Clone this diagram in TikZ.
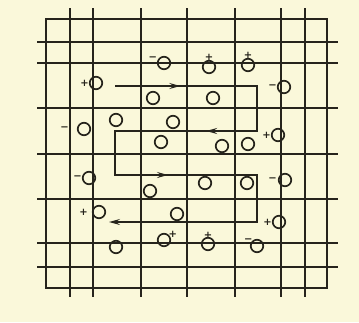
\documentclass[tikz,border=0pt]{standalone}
\usepackage{fontspec}
\newfontfamily\signfont{DejaVu Sans}
\usetikzlibrary{arrows.meta,decorations.markings}
\definecolor{paper}{RGB}{250,248,218}
\definecolor{ink}{RGB}{38,36,28}

\begin{document}
\begin{tikzpicture}[x=1pt, y=-1pt,
  gridline/.style={draw=ink, line width=1.1pt},
  ion/.style={circle, draw=ink, line width=1.7pt, minimum size=12.5pt, inner sep=0pt, label distance=1pt},
  sgn/.style={text=ink, font=\signfont\bfseries, inner sep=0pt},
  flowtip/.tip={Stealth[length=11pt,width=6pt,inset=4pt]},
  flow/.style={draw=ink, line width=1.6pt, line join=miter, -flowtip,
    postaction={decorate},
    decoration={markings,
      mark=at position 0.092 with {\arrow{flowtip}},
      mark=at position 0.335 with {\arrow{flowtip}},
      mark=at position 0.600 with {\arrow{flowtip}}}}
]
  % paper
  \fill[paper] (0,0) rectangle (359,322);

  % lattice grid
  \foreach \x in {70,93,141,187,235,281,305}
    \draw[gridline] (\x,8) -- (\x,297);
  \foreach \y in {42,63,108,154,199,243,267}
    \draw[gridline] (37,\y) -- (338,\y);
  \draw[gridline] (46,19) rectangle (327,288);

  % ions and neutral atoms
  \node[ion, label={[sgn]165:−}] (a1) at (164,63) {};
  \node[ion, label={[sgn]left:+}] (a2) at (96,83) {};
  \node[ion] (a3) at (153,98) {};
  \node[ion, label={[sgn,label distance=-1pt]above:+}] (a4) at (209,67) {};
  \node[ion, label={[sgn,label distance=-1pt]above:+}] (a5) at (248,65) {};
  \node[ion, label={[sgn]left:−}] (a6) at (284,87) {};
  \node[ion] (a7) at (213,98) {};
  \node[ion] (a8) at (116,120) {};
  \node[ion, label={[sgn,label distance=8pt]left:−}] (a9) at (84,129) {};
  \node[ion] (a10) at (173,122) {};
  \node[ion] (a11) at (161,142) {};
  \node[ion] (a12) at (222,146) {};
  \node[ion] (a13) at (248,144) {};
  \node[ion, label={[sgn,label distance=0pt]left:+}] (a14) at (278,135) {};
  \node[ion, label={[sgn,label distance=0pt]left:−}] (a15) at (89,178) {};
  \node[ion] (a16) at (150,191) {};
  \node[ion] (a17) at (205,183) {};
  \node[ion] (a18) at (247,183) {};
  \node[ion, label={[sgn,label distance=1pt]left:−}] (a19) at (285,180) {};
  \node[ion, label={[sgn,label distance=4pt]left:+}] (a20) at (99,212) {};
  \node[ion] (a21) at (177,214) {};
  \node[ion, label={[sgn,label distance=0pt]left:+}] (a22) at (279,222) {};
  \node[ion] (a23) at (116,247) {};
  \node[ion, label={[sgn,label distance=-2pt]30:+}] (a24) at (164,240) {};
  \node[ion, label={[sgn,label distance=-2pt]above:+}] (a25) at (208,244) {};
  \node[ion, label={[sgn,label distance=-2pt]145:−}] (a26) at (257,246) {};

  % current path
  \coordinate (s0) at (115,86);
  \coordinate (s1) at (257,86);
  \coordinate (s2) at (257,131);
  \coordinate (s3) at (115,131);
  \coordinate (s4) at (115,175);
  \coordinate (s5) at (257,175);
  \coordinate (s6) at (257,222);
  \coordinate (s7) at (109,222);
  \draw[flow] (s0) -- (s1) -- (s2) -- (s3) -- (s4) -- (s5) -- (s6) -- (s7);
\end{tikzpicture}
\end{document}
